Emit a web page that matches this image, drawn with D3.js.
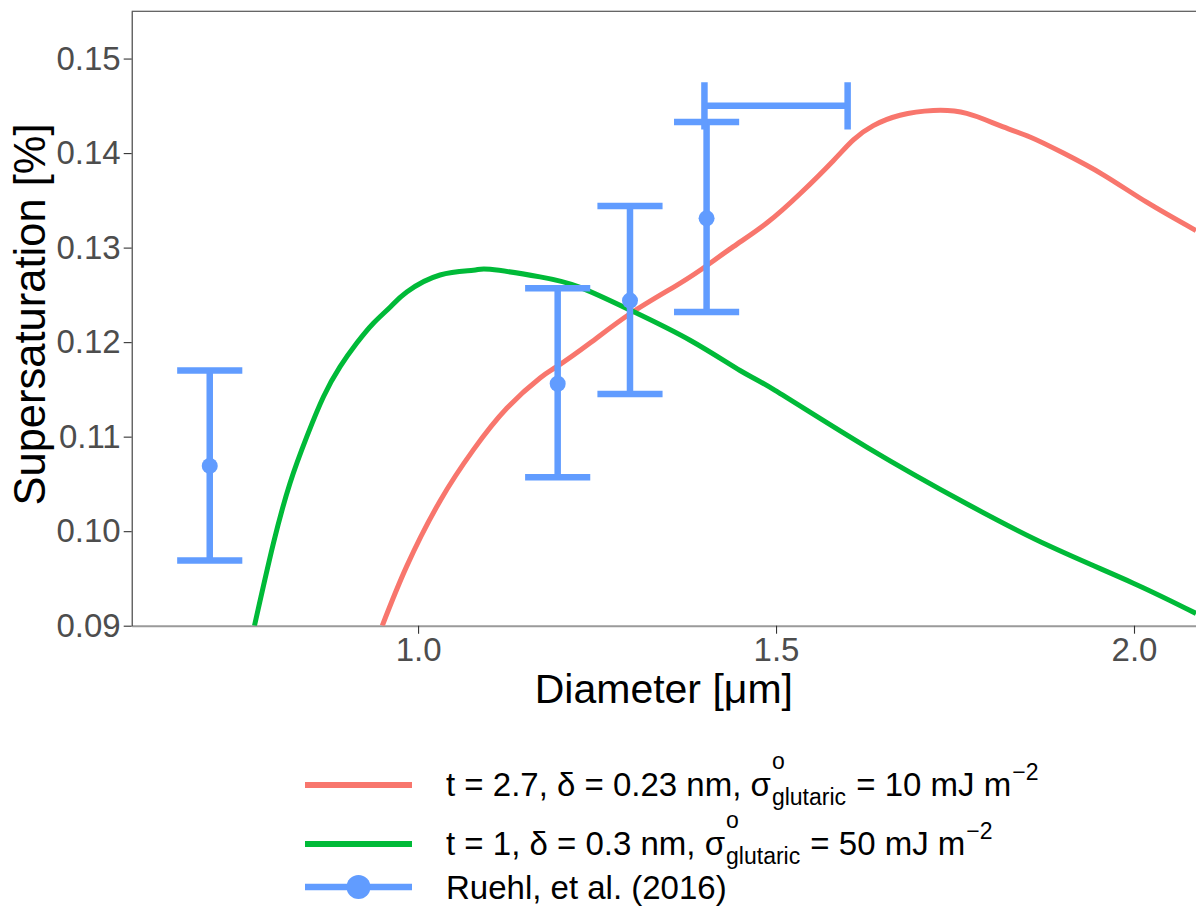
<!DOCTYPE html>
<html>
<head>
  <meta charset="utf-8">
  <title>Supersaturation vs diameter</title>
  <style>
    body { margin: 0; background: #fff; }
    svg { display: block; font-family: "Liberation Sans", Arial, sans-serif; }
    text { white-space: pre; }
  </style>
</head>
<body>
  <div id="plot"></div>
  <script src="https://cdn.jsdelivr.net/npm/d3@7"></script>
  <script>

    // model curve 1: t = 2.7, delta = 0.23 nm, sigma = 10 mJ m-2
    let redD = [0.950, 0.9842, 1.0307, 1.0772, 1.1239, 1.1704, 1.1937, 1.2402, 1.2961,
                1.3566, 1.3939, 1.4404, 1.4870, 1.5335, 1.5800, 1.6080, 1.6359, 1.6732,
                1.7197, 1.7663, 1.8128, 1.8547, 1.9013, 1.9571, 2.0177, 2.0866];
    let redS = [0.0900, 0.0963, 0.1032, 0.1086, 0.1130, 0.1162, 0.1174, 0.1199, 0.1230,
                0.1258, 0.1276, 0.1301, 0.1326, 0.1357, 0.1392, 0.1414, 0.1429, 0.1440,
                0.1445, 0.1442, 0.1429, 0.1417, 0.1400, 0.1377, 0.1348, 0.1318];

    // model curve 2: t = 1, delta = 0.3 nm, sigma = 50 mJ m-2
    let greenD = [0.7715, 0.7979, 0.8212, 0.8446, 0.8677, 0.8911, 0.9144, 0.9376, 0.9609,
                  0.9842, 1.0307, 1.0772, 1.1006, 1.1704, 1.2263, 1.2961, 1.3799, 1.4497,
                  1.4986, 1.6267, 1.7663, 1.8827, 1.9990, 2.0866];
    let greenS = [0.0900, 0.0987, 0.1051, 0.1100, 0.1142, 0.1174, 0.1199, 0.1220, 0.1237,
                  0.1253, 0.1271, 0.1276, 0.1277, 0.1269, 0.1258, 0.1234, 0.1202, 0.1170,
                  0.1149, 0.1089, 0.1029, 0.0984, 0.0945, 0.0913];

    // Ruehl et al. (2016) measurements
    let ruehlD = [0.709, 1.195, 1.296, 1.403];
    let ruehlS = [0.1069, 0.1156, 0.1244, 0.1331];
    let ruehlLo = [0.0969, 0.1057, 0.1145, 0.1232];
    let ruehlHi = [0.1170, 0.1257, 0.1344, 0.1433];
    // horizontal error bar
    let hbarS = [0.145];
    let hbarLo = [1.40];
    let hbarHi = [1.60];

    let xTicks = [1.0, 1.5, 2.0];
    let yTicks = [0.09, 0.10, 0.11, 0.12, 0.13, 0.14, 0.15];

    let legendLabels = [
      [['t = 2.7, δ = 0.23 nm, σ', 'n'], [['o', 'glutaric'], 'supsub'], [' = 10 mJ m', 'n'], ['−2', 'sup']],
      [['t = 1, δ = 0.3 nm, σ', 'n'], [['o', 'glutaric'], 'supsub'], [' = 50 mJ m', 'n'], ['−2', 'sup']],
      [['Ruehl, et al. (2016)', 'n']]
    ];
    let colors = ['#F8766D', '#00BA38', '#619CFF'];

    let svgWidth = 1196;
    let svgHeight = 907;
    let panel = {left: 131.7, top: 11.3, right: 1196, bottom: 625.7};

    let svg = d3.select('#plot')
      .append('svg')
        .attr('width', svgWidth)
        .attr('height', svgHeight);

    let x = d3.scaleLinear().domain([0.6, 2.0866]).range([panel.left, panel.right]);
    let y = d3.scaleLinear().domain([0.09, 0.155]).range([panel.bottom, panel.top]);

    svg.append('defs').append('clipPath')
      .attr('id', 'clip')
      .append('rect')
        .attr('x', panel.left)
        .attr('y', panel.top)
        .attr('width', panel.right - panel.left)
        .attr('height', panel.bottom - panel.top);

    // axes
    let xAxis = d3.axisBottom(x).tickValues(xTicks).tickFormat(d3.format('.1f'))
      .tickSizeInner(8).tickSizeOuter(0).tickPadding(4);
    let yAxis = d3.axisLeft(y).tickValues(yTicks).tickFormat(d3.format('.2f'))
      .tickSizeInner(8).tickSizeOuter(0).tickPadding(3);

    let gx = svg.append('g')
      .attr('transform', 'translate(0,' + panel.bottom + ')')
      .call(xAxis);
    gx.select('.domain').attr('stroke', '#9a9a9a').attr('stroke-width', 2);

    let gy = svg.append('g')
      .attr('transform', 'translate(' + panel.left + ',0)')
      .call(yAxis);
    gy.select('.domain').attr('stroke', '#333').attr('stroke-width', 1.1);

    svg.selectAll('.tick line').attr('stroke', '#333').attr('stroke-width', 1.1);
    svg.selectAll('.tick text')
      .attr('fill', '#4D4D4D')
      .style('font-size', '33px')
      .style('font-family', '"Liberation Sans", Arial, sans-serif');

    // top border
    svg.append('line')
      .attr('x1', panel.left).attr('x2', panel.right)
      .attr('y1', panel.top).attr('y2', panel.top)
      .attr('stroke', '#333').attr('stroke-width', 1.1);

    // axis titles
    svg.append('text')
      .attr('x', (panel.left + panel.right) / 2)
      .attr('y', 703)
      .attr('text-anchor', 'middle')
      .style('font-size', '41px')
      .text('Diameter [μm]');

    svg.append('text')
      .attr('transform', 'translate(45,' + ((panel.top + panel.bottom) / 2 - 4) + ') rotate(-90)')
      .attr('text-anchor', 'middle')
      .style('font-size', '43.5px')
      .text('Supersaturation [%]');

    let plot = svg.append('g').attr('clip-path', 'url(#clip)');

    let line = d3.line()
      .x(d => x(d[0]))
      .y(d => y(d[1]))
      .curve(d3.curveNatural);

    plot.append('path')
      .datum(d3.zip(redD, redS))
      .attr('d', line)
      .attr('fill', 'none')
      .attr('stroke', colors[0])
      .attr('stroke-width', 5);

    plot.append('path')
      .datum(d3.zip(greenD, greenS))
      .attr('d', line)
      .attr('fill', 'none')
      .attr('stroke', colors[1])
      .attr('stroke-width', 5);

    // vertical error bars
    let capW = 0.0455;
    let ruehl = d3.zip(ruehlD, ruehlS, ruehlLo, ruehlHi);
    let eb = plot.selectAll('.eb')
      .data(ruehl)
      .enter()
      .append('g')
        .attr('stroke', colors[2])
        .attr('stroke-width', 6.5);
    eb.append('line')
      .attr('x1', d => x(d[0])).attr('x2', d => x(d[0]))
      .attr('y1', d => y(d[2])).attr('y2', d => y(d[3]));
    eb.append('line')
      .attr('x1', d => x(d[0] - capW)).attr('x2', d => x(d[0] + capW))
      .attr('y1', d => y(d[2])).attr('y2', d => y(d[2]));
    eb.append('line')
      .attr('x1', d => x(d[0] - capW)).attr('x2', d => x(d[0] + capW))
      .attr('y1', d => y(d[3])).attr('y2', d => y(d[3]));

    // horizontal error bar
    let capH = 0.0025;
    let hb = plot.selectAll('.hb')
      .data(d3.zip(hbarS, hbarLo, hbarHi))
      .enter()
      .append('g')
        .attr('stroke', colors[2])
        .attr('stroke-width', 6.5);
    hb.append('line')
      .attr('x1', d => x(d[1])).attr('x2', d => x(d[2]))
      .attr('y1', d => y(d[0])).attr('y2', d => y(d[0]));
    hb.append('line')
      .attr('x1', d => x(d[1])).attr('x2', d => x(d[1]))
      .attr('y1', d => y(d[0] - capH)).attr('y2', d => y(d[0] + capH));
    hb.append('line')
      .attr('x1', d => x(d[2])).attr('x2', d => x(d[2]))
      .attr('y1', d => y(d[0] - capH)).attr('y2', d => y(d[0] + capH));

    plot.selectAll('.pt')
      .data(ruehl)
      .enter()
      .append('circle')
        .attr('cx', d => x(d[0]))
        .attr('cy', d => y(d[1]))
        .attr('r', 8)
        .attr('fill', colors[2]);

    // legend
    let rowLine = [785, 844, 887];
    let rowBase = [796, 855, 899];
    let legend = svg.append('g');

    function richText(g, x0, y0, parts) {
      let cx = x0;
      parts.forEach(p => {
        if (p[1] === 'n') {
          let t = g.append('text').attr('x', cx).attr('y', y0)
            .style('font-size', '33px').text(p[0]);
          cx += t.node().getComputedTextLength();
        } else if (p[1] === 'sup') {
          let t = g.append('text').attr('x', cx + 1).attr('y', y0 - 16)
            .style('font-size', '23px').text(p[0]);
          cx += t.node().getComputedTextLength() + 1;
        } else {
          let a = g.append('text').attr('x', cx + 1).attr('y', y0 - 27)
            .style('font-size', '23px').text(p[0][0]);
          let b = g.append('text').attr('x', cx + 1).attr('y', y0 + 9)
            .style('font-size', '23px').text(p[0][1]);
          cx += Math.max(a.node().getComputedTextLength(), b.node().getComputedTextLength()) + 2;
        }
      });
    }

    legendLabels.forEach((parts, i) => {
      let g = legend.append('g');
      g.append('line')
        .attr('x1', 305).attr('x2', 412)
        .attr('y1', rowLine[i]).attr('y2', rowLine[i])
        .attr('stroke', colors[i])
        .attr('stroke-width', i === 2 ? 6.5 : 6);
      if (i === 2) {
        g.append('circle')
          .attr('cx', 358.5).attr('cy', rowLine[i])
          .attr('r', 12)
          .attr('fill', colors[i]);
      }
      richText(g, 446, rowBase[i], parts);
    });

  </script>
</body>
</html>
